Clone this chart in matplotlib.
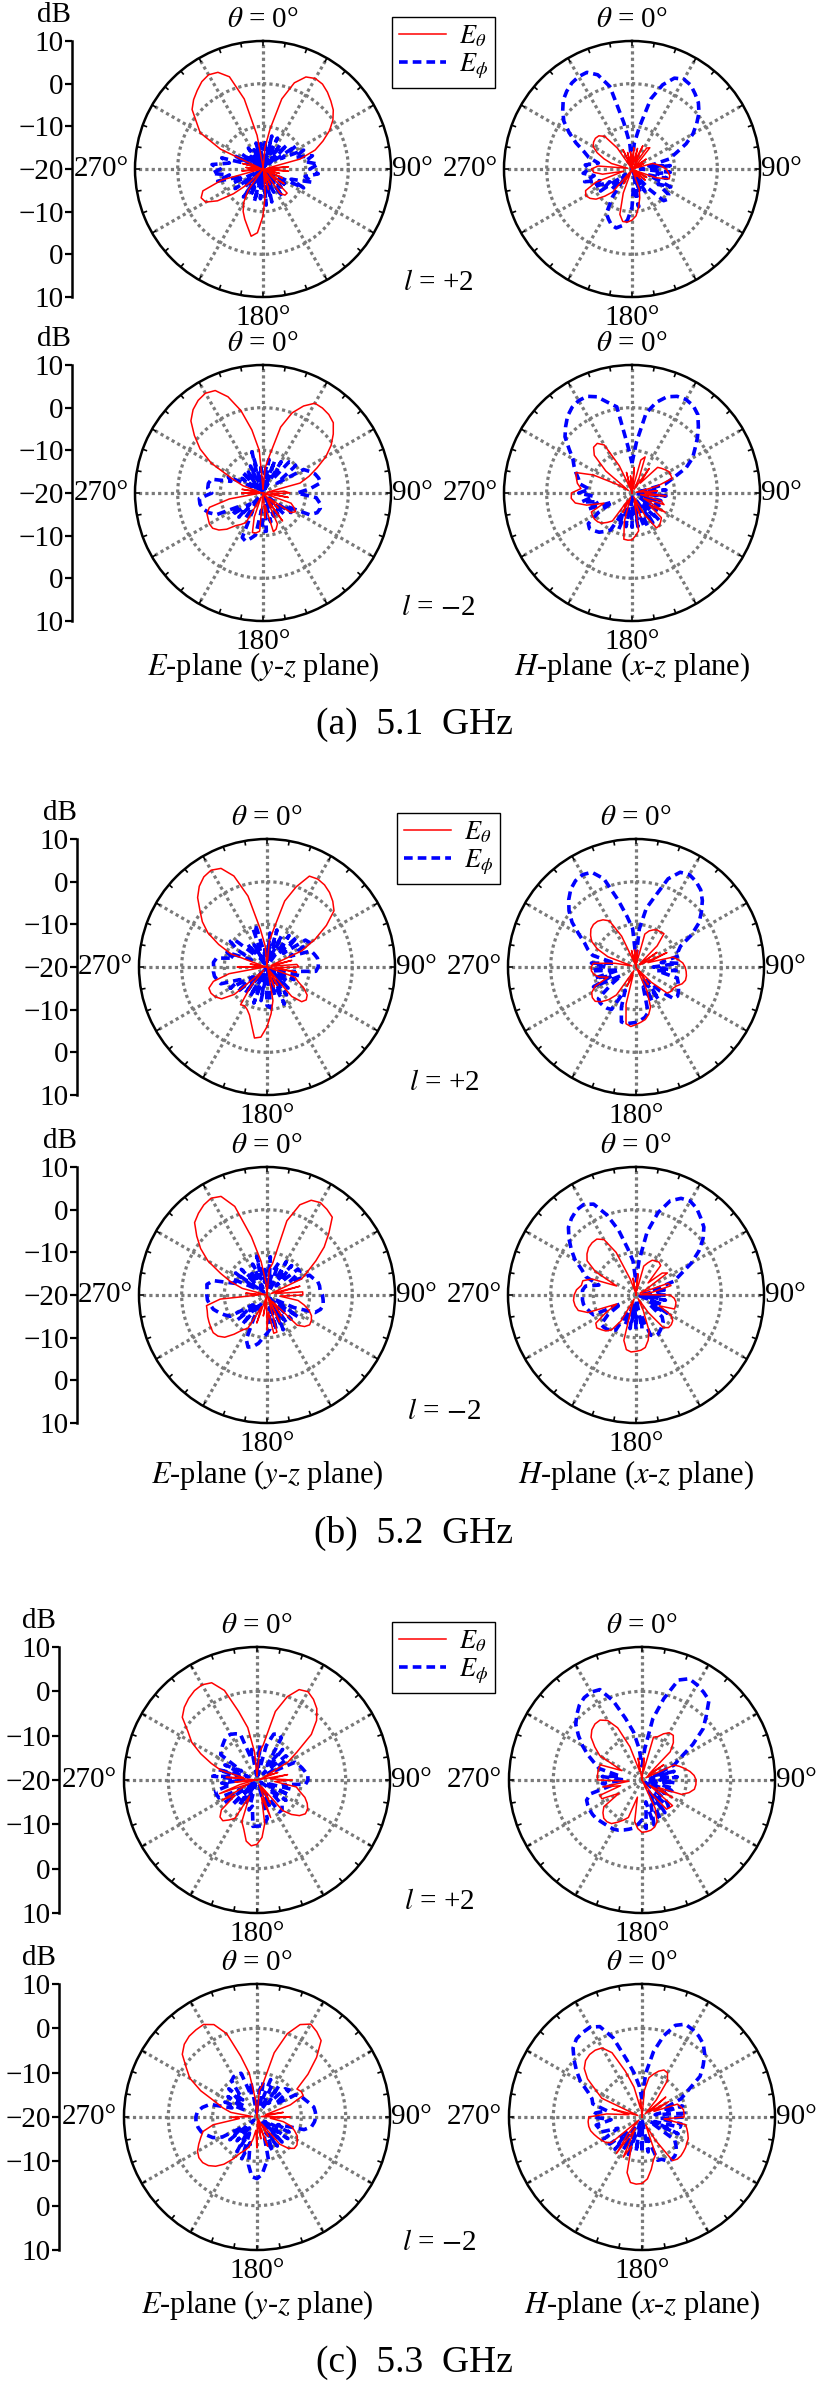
import numpy as np
import matplotlib.pyplot as plt

plt.rcParams['font.family'] = 'Liberation Serif'
plt.rcParams['mathtext.fontset'] = 'stix'

# measured radiation patterns, dB, sampled every 5 deg (clockwise from theta = 0)
ang = np.arange(0, 360, 5)

# ---- (a) 5.1 GHz ----
fa_Ep_th = [-20, -15, -10.5, -3, 1.5, 3.8, 4.5, 4.3, 3.5, 2.5, 1.5, 0,
            -2, -4.5, -7, -11, -19, -14, -19, -14, -20, -16, -19, -15,
            -20, -14, -18, -12, -12, -13, -20, -16, -20, -15, -19, -14,
            -9, -5, -4, -6, -7.5, -9, -11, -14, -20, -15, -11, -7,
            -4.5, -4, -5, -10, -19, -15, -20, -16, -20, -15, -19, -9,
            -3, -1, 1.7, 3, 4, 5, 5.5, 5, 3, -3, -12, -19]
fa_Ep_ph = [-19, -13, -20, -12, -18, -12, -20, -13, -17, -12, -18, -10.5,
            -15, -9.5, -12, -8, -10, -7, -9, -7, -10, -8, -13, -9.5,
            -18, -13, -19, -14, -17, -12, -20, -14, -17, -12, -18, -11.5,
            -20, -13, -18, -12, -19, -13, -17, -12, -20, -14, -17, -12,
            -19, -12, -15, -9, -12, -8, -10, -8, -12, -10, -17, -13,
            -20, -14, -18, -15, -20, -14, -19, -15, -20, -13.7, -18, -14]
fa_Hp_th = [-20, -15, -19, -15, -18, -14, -19, -14, -13.5, -18, -20, -16,
            -20, -17, -20, -15, -14, -13, -12, -11.5, -11, -11, -14, -19,
            -16, -20, -16, -20, -17, -20, -18, -20, -15, -13, -11, -9,
            -8, -7.5, -7.5, -9, -14, -20, -16, -19, -13, -11, -9, -8,
            -7.5, -8, -11, -18, -13, -11, -10.5, -12, -19, -15, -13, -11,
            -9.5, -9, -8.8, -9, -10, -14, -20, -15, -19, -16, -20, -16]
fa_Hp_ph = [-19, -14, -10, -3, 1, 3.5, 4.3, 4, 3, 2, 0.5, -1.5,
            -3.5, -6, -9, -11, -16, -11, -18, -11, -14, -11.5, -16, -10,
            -13, -9.5, -9, -9.5, -14, -18, -14, -20, -14, -18, -11, -16,
            -11, -8, -6.5, -5.7, -6, -7, -8, -12, -17, -13, -18, -11,
            -14, -10, -12, -8.5, -11, -8.5, -10, -9, -12, -9.5, -8, -5.5,
            -3, -0.5, 1.2, 2.8, 3.8, 4.6, 5, 5, 3.5, 0, -9, -14]
fa_Em_th = [-19, -14, -11, -4, 0, 2.5, 4.3, 4.3, 4, 3.3, 1.5, -0.5,
            -3, -6, -8.5, -11, -19, -15, -13.7, -18, -14, -20, -13, -12,
            -11.2, -12, -18, -15, -20, -12, -18, -12, -11, -10.6, -17, -14,
            -20, -11, -10.5, -10.4, -14, -19, -12, -11, -10, -8, -6.5, -5.6,
            -5.5, -5.8, -6, -7, -12, -19, -15, -20, -15, -19, -15, -12,
            -6, -2, 1, 3.9, 5.5, 6.5, 7, 6.5, 4, 0, -5, -10]
fa_Em_ph = [-19, -15, -12, -18, -12, -19, -11.5, -16, -10.5, -10, -10, -16,
            -9, -8, -7, -6.5, -6.3, -9, -12, -7.5, -6.5, -6.1, -6.5, -8,
            -14, -12, -18, -13, -19, -14, -17, -14, -20, -13, -17, -11,
            -11, -16, -10, -9, -8, -8.5, -15, -13, -19, -12, -16, -11,
            -14, -8, -6.5, -5.5, -5, -5, -8, -7, -7, -7.5, -12, -11,
            -17, -14, -19, -13, -17, -14, -20, -13, -17, -10, -18, -14]
fa_Hm_th = [-20, -14, -19, -12, -11, -16, -19, -13, -17, -11.5, -11, -10.5,
            -10, -10, -10, -14, -19, -14, -17, -12, -18, -13, -12, -17,
            -11, -15, -11, -10.5, -10, -10, -14, -19, -14, -18, -11, -10,
            -9, -8.9, -9, -13, -19, -15, -18, -12, -11, -10, -9.5, -9.3,
            -9.3, -9.5, -13, -9, -6.5, -5.7, -5.8, -8, -7, -6.5, -6, -10,
            -16, -19, -12, -7.5, -6, -5.8, -7, -13, -19, -15, -20, -16]
fa_Hm_ph = [-13, -8, -1, 2, 4, 5, 5.3, 5, 4, 2, 0, -2,
            -3.6, -6, -9.7, -12, -18, -12, -17, -12, -19, -13, -16, -13,
            -18, -13, -17, -11, -16, -11.5, -18, -11.5, -11.7, -17, -12, -19,
            -12, -18, -12, -17, -11, -15, -10, -9, -8, -7.5, -7, -7.5,
            -11, -15, -9, -12, -8, -11, -7.5, -10, -7.5, -7, -6, -5,
            -4, -2, 0.5, 2, 3.5, 4.5, 5, 5, 4, 2, 0.5, -9]

# ---- (b) 5.2 GHz ----
fb_Ep_th = [-20, -14, -11, -4, 0, 3.5, 3.8, 3.5, 2.8, 1.8, 0.5, -3,
            -7, -11, -19, -14, -19, -13, -12.5, -18, -13, -20, -13, -12,
            -10, -8.5, -8, -8.5, -11, -19, -15, -20, -15, -19, -12, -9,
            -6, -3.5, -3.1, -6, -8, -9, -9.5, -9.2, -14, -19, -10, -7,
            -6, -5.5, -5.5, -7, -11, -19, -13, -20, -16, -19, -11, -7.5,
            -4, -1.5, 0.5, 3, 4.7, 5.8, 6.2, 5.5, 2.7, -2.8, -11, -15]
fb_Ep_ph = [-19, -12, -18, -11, -17, -12, -19, -11, -16, -10, -15, -9,
            -8.5, -14, -9, -8.5, -8, -7.9, -8, -8.5, -14, -12, -18, -13,
            -19, -14, -18, -13, -17, -12, -16, -10.4, -17, -13, -19, -10.4,
            -11, -18, -12, -19, -11, -17, -12, -20, -12, -18, -11, -16,
            -10, -13, -8.5, -8, -7.5, -7.4, -7.5, -7.4, -8, -12, -10, -16,
            -12, -9.5, -10, -16, -13, -19, -14, -18, -10, -10.5, -17, -15]
fb_Hp_th = [-20, -16, -19, -12, -11, -10.4, -10, -10, -9.8, -13, -19, -14,
            -19, -12, -17, -11, -10, -9, -8.5, -8.2, -8, -8, -8.5, -9.5,
            -10, -10, -10.5, -15, -19, -15, -20, -14, -10, -8.5, -7.5, -7,
            -6.5, -6, -6.5, -11, -18, -15, -19, -12, -10, -8.5, -7.5, -7.5,
            -8, -9.5, -13, -11, -10, -9.5, -9.5, -10, -15, -19, -13, -10,
            -8, -7, -6.2, -5.9, -6, -6.5, -7.5, -12, -19, -16, -20, -16]
fb_Hp_ph = [-18, -11, -6, -2.9, 2, 4.5, 5, 4.5, 3.6, 2, 0, -2,
            -5, -8.5, -9.5, -9.2, -14, -10, -16, -10.5, -15, -10, -9.5, -9,
            -8.5, -8.1, -8.5, -12, -16, -10.7, -17, -11, -15, -9, -8, -7.5,
            -7, -6.8, -6.5, -6.7, -10, -14, -8.5, -8.2, -8.1, -8.1, -8.5, -13,
            -16, -9, -14, -10, -16, -9.5, -13, -9.5, -15, -9.5, -8, -6.7,
            -4.5, -1.7, 0.5, 2.3, 3.8, 4.7, 5, 4.5, 2, -3.7, -8, -11]
fb_Em_th = [-20, -14, -12.5, -2, 2.5, 4.5, 5, 4.5, 3.8, 0.5, -2.5, -6,
            -9, -11, -19, -12, -18, -11.6, -11.6, -17, -12.6, -11, -9.5, -8.5,
            -8, -7.8, -8.5, -10, -18, -14, -20, -13, -19, -11, -10.9, -16,
            -11.8, -19, -15, -20, -13, -17, -11, -10, -8, -6, -5, -4.6,
            -4.8, -5, -5.2, -5.5, -5.6, -9, -18, -15, -20, -14, -11, -8,
            -4, -1, 1.5, 4, 5, 5.8, 6.2, 5.5, 2.1, -5.9, -12, -17]
fb_Em_ph = [-18, -11, -17, -14, -12, -19, -11, -16, -11, -17, -10.5, -10.6,
            -14, -9, -8.5, -7.7, -7.5, -7.5, -7, -6.8, -6.6, -7, -8, -13,
            -18, -11, -17, -12, -19, -12, -16, -11, -18, -11.5, -17, -12,
            -11, -10, -8.5, -7.5, -7, -8.5, -14, -18, -11, -17, -11, -16,
            -10, -9, -8, -7, -6.5, -6, -5.9, -5.9, -5.7, -7, -12, -11,
            -17, -11, -19, -11.5, -16, -13, -18, -12, -16, -10.6, -17, -14]
fb_Hm_th = [-20, -15, -19, -13, -12, -11, -10.8, -10.6, -11, -16, -12, -11,
            -17, -19, -12, -11.5, -16, -19, -12, -11, -10.5, -10.4, -10.4, -14,
            -10.5, -9.5, -9.2, -9.2, -10, -15, -19, -16, -11, -9, -7.5, -7,
            -6.8, -6.6, -7, -9, -17, -19, -13, -10, -9, -8.5, -8, -8.5,
            -12, -15, -8, -6, -5.5, -5.3, -5.5, -6, -7, -7.1, -9, -15,
            -9, -6, -5, -4.3, -4, -4, -5, -9, -16, -19, -16, -20]
fb_Hm_ph = [-17, -12, -5, 0, 3.5, 5, 5.4, 4.8, 3.6, 2.5, 0.5, -2,
            -5, -8.4, -10.5, -16, -12.5, -19, -13, -17, -13, -19, -13.5, -17,
            -11.5, -16, -12, -11, -10.5, -10, -9.5, -9.4, -10, -15, -12, -19,
            -12, -17, -12, -18, -12.5, -16, -10.5, -10, -9.5, -9.3, -9.3, -12,
            -16, -9, -8.5, -8, -7.5, -7.4, -7.5, -7.4, -8, -11, -7.5, -6,
            -3.5, -1.5, 0.5, 2.4, 3.5, 4.3, 4.5, 3.5, 0, -4.3, -9, -12]

# ---- (c) 5.3 GHz ----
fc_Ep_th = [-19, -13.7, -12, -4, 0, 2.5, 3, 2.2, 1, -1, -4, -9,
            -12, -18, -15, -20, -13, -17, -12, -16, -11, -10, -8.5, -7.5,
            -6.8, -6.7, -7.5, -9, -11, -18, -14, -19, -11, -16, -10, -7,
            -5.5, -5.1, -6, -8.5, -10, -16, -10, -9, -8, -8.2, -9.5, -14,
            -11, -18, -11, -16, -19, -15, -20, -13, -17, -11.6, -9, -6,
            -3, -1, 2, 3.2, 4, 4.6, 4.8, 4.2, 1.5, -4, -8, -13.7]
fc_Ep_ph = [-18, -12, -19, -12, -9, -8.5, -9, -16, -11, -18, -11.5, -11.4,
            -17, -10.5, -10, -9.5, -9, -8.5, -8.5, -9, -14, -12, -18, -12,
            -19, -12, -16, -12, -11.2, -11.2, -17, -13, -19, -11, -10, -9.6,
            -9.6, -9.5, -14, -13, -19, -14, -18, -13, -17, -12, -19, -11,
            -16, -10.5, -10.3, -10.3, -14, -12, -17, -10, -16, -11, -18, -12,
            -16, -10, -9.5, -9, -8.5, -8, -8.1, -8.5, -9, -15, -13, -19]
fc_Hp_th = [-20, -15, -18, -10, -9.6, -8.5, -7.7, -7.7, -9, -11, -18, -14,
            -19, -12, -11, -10, -9, -8.2, -7.8, -7.8, -8, -9, -10.5, -16,
            -12, -18, -11, -11.2, -11.4, -16, -20, -13, -10, -9, -8.5, -8.3,
            -8.2, -9, -10.5, -16, -11, -10, -9, -8, -7.7, -7.8, -8.5, -9.5,
            -14, -10, -9.9, -15, -11, -17, -10, -9.9, -9.9, -9.9, -10, -15,
            -9, -7, -5, -4, -3.5, -3.5, -4.5, -7, -12, -18, -15, -20]
fc_Hp_ph = [-17, -13, -6, -1, 4, 5.2, 4.8, 4.2, 3.5, 0.5, -2, -6,
            -10, -12, -17, -12.5, -18, -12, -16, -12.5, -19, -12.5, -12.9, -17,
            -14, -19, -13, -11.5, -16, -11, -17, -10, -14, -9.5, -15, -9,
            -11, -10, -9, -8.5, -8, -7.5, -7.2, -7.1, -7, -6.8, -6.5, -6.4,
            -6.4, -6.5, -6.7, -8, -13, -11, -16, -11, -15, -10, -8.5, -6.5,
            -4.5, -2.5, -0.5, 0.8, 2, 2.7, 2.9, 2.5, -1, -5.6, -9, -13]
fc_Em_th = [-20, -14, -12.5, -5, 0, 3, 4.2, 3.5, 2.5, -1, -5, -9,
            -8.5, -8.5, -12, -18, -14, -19, -12.5, -17, -14, -12, -11, -10,
            -9.5, -9, -9, -10, -12, -18, -15, -20, -13, -18, -15, -19,
            -13, -17, -15, -13, -12, -11, -9, -7, -5.5, -4.5, -4, -4,
            -4.5, -5.5, -6.5, -7.4, -10, -16, -14, -19, -14, -12, -10, -6,
            -2.5, -0.5, 2, 3.2, 3.8, 4, 4.1, 3, 0, -5.8, -10, -16]
fc_Em_ph = [-18, -14, -12, -17, -11, -12, -18, -11.5, -16, -11, -10.5, -15,
            -10, -9, -8.5, -7.8, -7, -6.8, -6.7, -7, -7.5, -9, -15, -12,
            -18, -11.5, -17, -12, -19, -12, -16, -11.5, -15, -10, -9, -7,
            -6.1, -6.5, -9, -14, -10, -16, -11, -17, -13, -19, -12, -16,
            -11, -9, -8, -7, -6.5, -6.2, -6.2, -6.5, -7.5, -9, -14, -12,
            -17, -12, -16, -11, -15, -10, -9.5, -9.4, -9.5, -15, -12, -19]
fc_Hm_th = [-20, -14, -11, -10, -9, -8.3, -8.5, -10, -15, -19, -13, -18,
            -13, -17, -11.5, -11, -10.5, -10.5, -10.5, -15, -10, -9.5, -9, -8.5,
            -8.3, -8, -7.8, -7.6, -7.6, -8, -14, -18, -11, -10, -8, -6,
            -5, -4.8, -5, -7, -13, -10, -17, -10, -15, -19, -11, -10,
            -9.5, -9, -8.5, -8, -7.8, -7.8, -8, -12, -17, -13, -19, -10,
            -8, -5, -3, -2, -1.6, -1.6, -2, -4, -9, -13, -18, -16]
fc_Hm_ph = [-16, -10, -5, -1, 2, 3.1, 2.8, 2.3, 1.5, 0, -2, -4,
            -8, -10.3, -15, -10.5, -17, -10.4, -10.4, -16, -11, -11.1, -17, -11,
            -18, -11, -10, -9, -8.5, -8.3, -8.5, -9.5, -9.6, -15, -12, -19,
            -12, -18, -12, -19, -11, -16, -11.5, -17, -10.5, -15, -10.5, -10,
            -10, -14, -10, -10, -9.5, -13, -9, -9.5, -12, -8.5, -8, -6.5,
            -4, -2, 0, 2, 3, 3.3, 3.4, 2.5, -1, -6.6, -10, -13]

captions = ['(a)  5.1  GHz', '(b)  5.2  GHz', '(c)  5.3  GHz']
plane_labels = [r'$E$-plane ($y$-$z$ plane)', r'$H$-plane ($x$-$z$ plane)']
mode_labels = [r'$l$ = +2', r'$l$ = $-$2']
db_ticks = [30, 20, 10, 0, -10, -20, -30]
db_labels = ['10', '0', '\u221210', '\u221220', '\u221210', '0', '10']

data = [
    [[(fa_Ep_th, fa_Ep_ph), (fa_Hp_th, fa_Hp_ph)], [(fa_Em_th, fa_Em_ph), (fa_Hm_th, fa_Hm_ph)]],
    [[(fb_Ep_th, fb_Ep_ph), (fb_Hp_th, fb_Hp_ph)], [(fb_Em_th, fb_Em_ph), (fb_Hm_th, fb_Hm_ph)]],
    [[(fc_Ep_th, fc_Ep_ph), (fc_Hp_th, fc_Hp_ph)], [(fc_Em_th, fc_Em_ph), (fc_Hm_th, fc_Hm_ph)]],
]

# layout in pixels of the 827 x 2384 page
W, H = 827, 2384
layout = [
    dict(cx=(263, 632), cy=(169, 493), r=128, dbx=72, dblx=54, leg=(392, 17),
         lx=438, ly=(283, 608), ply=667, capy=725),
    dict(cx=(267, 636), cy=(967, 1295), r=128, dbx=77, dblx=60, leg=(397, 813),
         lx=444, ly=(1083, 1412), ply=1475, capy=1533),
    dict(cx=(257, 642), cy=(1780, 2117), r=133, dbx=59, dblx=39, leg=(392, 1622),
         lx=439, ly=(1902, 2243), ply=2305, capy=2363),
]

FS = 21
fig = plt.figure(figsize=(W / 100, H / 100), dpi=100)


def fx(x):
    return x / W


def fy(y):
    return 1 - y / H


def pattern(cx, cy, r, e_th, e_ph):
    ax = fig.add_axes([fx(cx - r), fy(cy + r), 2 * r / W, 2 * r / H],
                      projection='polar')
    ax.set_theta_zero_location('N')
    ax.set_theta_direction(-1)
    t = np.radians(np.append(ang, 360))
    lp, = ax.plot(t, np.append(e_ph, e_ph[0]), color='#0000ff', lw=2.6,
                  ls=(0, (2.4, 1.4)), zorder=3)
    lt, = ax.plot(t, np.append(e_th, e_th[0]), color='#ff0000', lw=1.1, zorder=4)
    ax.set_ylim(-20, 10)
    ax.set_yticks([-10, 0])
    ax.set_yticklabels([])
    ax.set_xticks(np.radians(np.arange(0, 360, 30)))
    ax.set_xticklabels([])
    ax.tick_params(length=0)
    ax.grid(True, color='#7a7a7a', ls=(0, (1, 1.0)), lw=2.3)
    ax.spines['polar'].set_linewidth(1.8)
    for d in range(0, 360, 10):
        ax.plot([np.radians(d)] * 2, [9.1, 10], color='k', lw=1.2, zorder=5)
    ax.text(0.5, 1.03, r'$\theta$ = 0°', transform=ax.transAxes,
            ha='center', va='bottom', fontsize=FS)
    ax.text(0.5, -0.03, '180°', transform=ax.transAxes,
            ha='center', va='top', fontsize=FS)
    ax.text(1.005, 0.5, '90°', transform=ax.transAxes,
            ha='left', va='center', fontsize=FS)
    ax.text(-0.025, 0.5, '270°', transform=ax.transAxes,
            ha='right', va='center', fontsize=FS)
    return lt, lp


def db_scale(x, cy, r):
    ax = fig.add_axes([fx(x), fy(cy + r), 0.0001, 2 * r / H])
    ax.set_ylim(-30, 30)
    ax.set_yticks(db_ticks)
    ax.set_yticklabels(db_labels)
    ax.set_xticks([])
    for s in ['right', 'top', 'bottom']:
        ax.spines[s].set_visible(False)
    ax.spines['left'].set_linewidth(1.8)
    ax.tick_params(axis='y', direction='out', length=5, width=1.6,
                   labelsize=FS, pad=1)
    ax.patch.set_visible(False)


for g, lay in enumerate(layout):
    r = lay['r']
    for row in range(2):
        cy = lay['cy'][row]
        db_scale(lay['dbx'], cy, r)
        fig.text(fx(lay['dblx']), fy(cy - r - 26), 'dB', ha='center',
                 va='center', fontsize=FS)
        for col in range(2):
            e_th, e_ph = data[g][row][col]
            lt, lp = pattern(lay['cx'][col], cy, r, e_th, e_ph)
            if row == 0 and col == 0:
                handles = [lt, lp]
        fig.text(fx(lay['lx']), fy(lay['ly'][row]), mode_labels[row],
                 ha='center', va='center', fontsize=FS)
    for col in range(2):
        fig.text(fx(lay['cx'][col]), fy(lay['ply']), plane_labels[col],
                 ha='center', va='center', fontsize=22)
    fig.text(fx(414), fy(lay['capy']), captions[g], ha='center',
             va='center', fontsize=27)
    leg = fig.legend(handles, [r'$E_\theta$', r'$E_\phi$'], loc='upper left',
                     bbox_to_anchor=(fx(lay['leg'][0]), fy(lay['leg'][1])),
                     fancybox=False, edgecolor='black', framealpha=1,
                     fontsize=19, handlelength=1.8, handletextpad=0.5,
                     borderpad=0.25, labelspacing=0.1, borderaxespad=0)
    leg.get_frame().set_linewidth(1.0)

fig.savefig('out.png', dpi=100)
